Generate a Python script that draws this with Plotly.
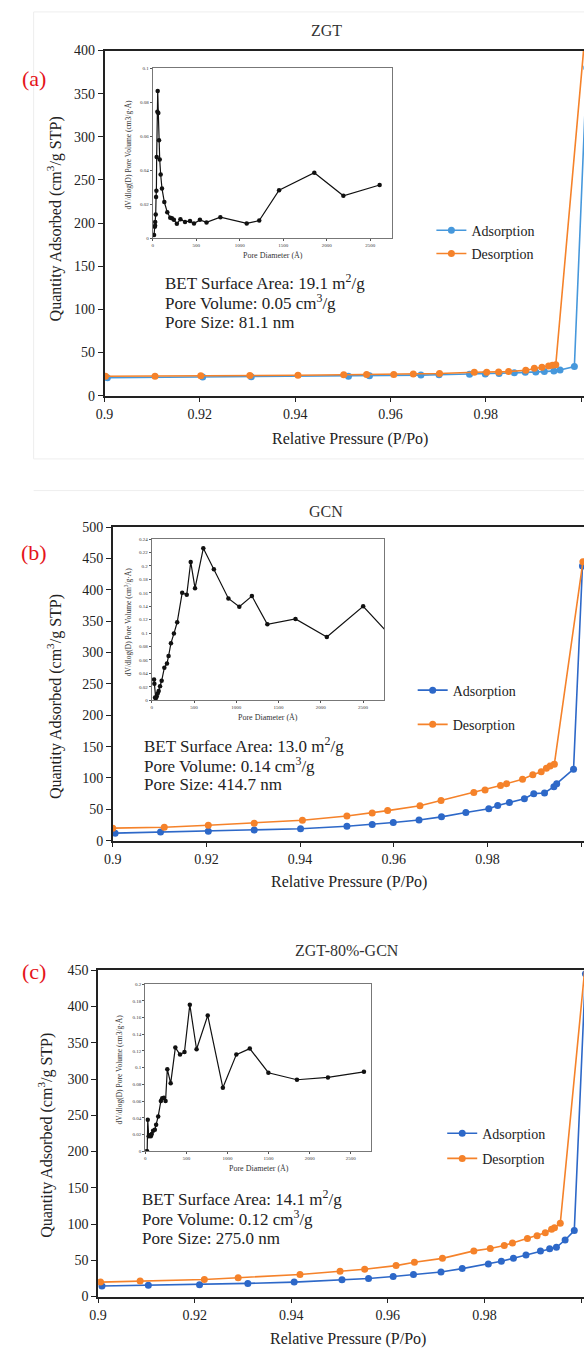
import plotly.graph_objects as go

# ---------------- data ----------------
# (a) ZGT isotherm
zgt_ads_p = [0.9006, 0.9206, 0.9308, 0.9512, 0.9556, 0.9664, 0.9702, 0.9766, 0.9799, 0.9828,
             0.9860, 0.9883, 0.9905, 0.9923, 0.9943, 0.9956, 0.9986, 1.0012]
zgt_ads_q = [20.8, 21.5, 22.0, 22.6, 23.0, 23.8, 24.2, 24.8, 25.2, 25.8,
             26.4, 27.0, 27.3, 27.9, 28.7, 29.8, 33.8, 380]
zgt_des_p = [0.9002, 0.9106, 0.9202, 0.9305, 0.9406, 0.9502, 0.9550, 0.9607, 0.9648, 0.9703,
             0.9776, 0.9802, 0.9827, 0.9848, 0.9884, 0.9902, 0.9918, 0.9932, 0.9940, 0.9947, 1.0012]
zgt_des_q = [22.5, 22.6, 23.0, 23.3, 23.6, 24.2, 24.5, 24.6, 25.2, 25.6,
             27.1, 27.1, 27.3, 27.9, 29.4, 31.7, 32.9, 34.4, 35.2, 35.9, 442]
# (a) ZGT pore size distribution
zgt_psd_d = [15, 23, 27, 28, 34, 38, 42, 45, 53, 57, 64, 72, 80, 91, 106, 133, 167, 201, 220, 243,
             277, 318, 371, 428, 474, 542, 618, 777, 1080, 1224, 1452, 1857, 2191, 2608]
zgt_psd_v = [0.002, 0.0068, 0.0074, 0.0097, 0.014, 0.0244, 0.028, 0.0478, 0.0745, 0.0867,
             0.0737, 0.0577, 0.0464, 0.0376, 0.0294, 0.0214, 0.0154, 0.0121, 0.0119, 0.0109,
             0.0086, 0.0113, 0.0097, 0.0103, 0.0088, 0.0109, 0.0094, 0.0125, 0.0088, 0.0105,
             0.0283, 0.0386, 0.0251, 0.0314]

# (b) GCN isotherm
gcn_ads_p = [0.9005, 0.9102, 0.9204, 0.9302, 0.9401, 0.9500, 0.9554, 0.9599, 0.9654, 0.9702,
             0.9754, 0.9803, 0.9822, 0.9847, 0.9879, 0.9899, 0.9922, 0.9942, 0.9948, 0.9984, 1.0003]
gcn_ads_q = [12, 13.7, 15, 17, 19, 23, 26, 29, 33, 38,
             45, 51, 56, 61, 67, 75, 76, 86, 91, 114, 438]
gcn_des_p = [0.9000, 0.9110, 0.9204, 0.9302, 0.9405, 0.9500, 0.9554, 0.9587, 0.9656, 0.9701,
             0.9771, 0.9795, 0.9828, 0.9841, 0.9875, 0.9897, 0.9915, 0.9926, 0.9934, 0.9943, 1.0004]
gcn_des_q = [20, 21.5, 24.7, 28, 32.5, 39.4, 44, 48, 55.7, 64,
             77, 81, 88, 91, 98, 105, 110, 115.5, 119, 122, 445]
# (b) GCN pore size distribution
gcn_psd_d = [27, 31, 39, 47, 59, 70, 82, 98, 117, 149, 180, 199, 227, 262, 301, 360, 414, 461,
             512, 610, 735, 907, 1036, 1185, 1368, 1701, 2072, 2502, 2900]
gcn_psd_v = [0.031, 0.0247, 0.004, 0.0025, 0.0054, 0.0099, 0.0138, 0.0208, 0.029, 0.0484,
             0.0548, 0.0657, 0.085, 0.0993, 0.1161, 0.16, 0.157, 0.2059, 0.1669, 0.2262,
             0.1951, 0.1516, 0.1393, 0.1551, 0.113, 0.121, 0.0943, 0.1398, 0.0857]

# (c) ZGT-80%-GCN isotherm
mix_ads_p = [0.9008, 0.9104, 0.9210, 0.9310, 0.9406, 0.9505, 0.9560, 0.9611, 0.9653, 0.9710,
             0.9754, 0.9808, 0.9835, 0.9860, 0.9886, 0.9916, 0.9935, 0.9949, 0.9967, 0.9986, 1.0009]
mix_ads_q = [14.5, 15.5, 16.4, 18.2, 20, 23.2, 25, 27.7, 30.5, 34,
             38.6, 45, 48.6, 53, 57.3, 63, 66, 68, 78, 91, 445]
mix_des_p = [0.9005, 0.9087, 0.9220, 0.9290, 0.9418, 0.9501, 0.9552, 0.9617, 0.9655, 0.9713,
             0.9778, 0.9812, 0.9841, 0.9858, 0.9889, 0.9909, 0.9926, 0.9939, 0.9945, 0.9957, 1.0012]
mix_des_q = [20, 21.4, 23.6, 26, 30.5, 35, 37.7, 42.7, 47.3, 52.7,
             63, 66.4, 70.5, 74, 80, 84, 88, 92.7, 95, 101, 481]
# (c) ZGT-80%-GCN pore size distribution
mix_psd_d = [8, 22, 29, 41, 53, 66, 78, 94, 115, 131, 156, 189, 205, 226, 246, 267, 308, 365,
             422, 476, 541, 623, 759, 943, 1107, 1271, 1497, 1845, 2222, 2660]
mix_psd_v = [0, 0, 0.0376, 0.0178, 0.019, 0.0178, 0.0206, 0.0245, 0.0257, 0.0317, 0.0416,
             0.0602, 0.0634, 0.0641, 0.0602, 0.0982, 0.0812, 0.124, 0.1156, 0.1188, 0.1754,
             0.122, 0.1624, 0.076, 0.1156, 0.1228, 0.0939, 0.0855, 0.0883, 0.095]

titles = ["ZGT", "GCN", "ZGT-80%-GCN"]
tags = ["(a)", "(b)", "(c)"]
bet_lines = [
    ["BET Surface Area: 19.1 m<sup>2</sup>/g", "Pore Volume: 0.05 cm<sup>3</sup>/g", "Pore Size: 81.1 nm"],
    ["BET Surface Area: 13.0 m<sup>2</sup>/g", "Pore Volume: 0.14 cm<sup>3</sup>/g", "Pore Size: 414.7 nm"],
    ["BET Surface Area: 14.1 m<sup>2</sup>/g", "Pore Volume: 0.12 cm<sup>3</sup>/g", "Pore Size: 275.0 nm"],
]
p_ticks = [0.9, 0.92, 0.94, 0.96, 0.98, 1.0]
p_ticktext = ["0.9", "0.92", "0.94", "0.96", "0.98", "1"]
d_ticks = [0, 500, 1000, 1500, 2000, 2500]
psd_yticks = [
    ([0, 0.02, 0.04, 0.06, 0.08, 0.1], ["0", "0.02", "0.04", "0.06", "0.08", "0.1"]),
    ([0, 0.02, 0.04, 0.06, 0.08, 0.1, 0.12, 0.14, 0.16, 0.18, 0.2, 0.22, 0.24],
     ["0", "0.02", "0.04", "0.06", "0.08", "0.1", "0.12", "0.14", "0.16", "0.18", "0.2", "0.22", "0.24"]),
    ([0, 0.02, 0.04, 0.06, 0.08, 0.1, 0.12, 0.14, 0.16, 0.18, 0.2],
     ["0", "0.02", "0.04", "0.06", "0.08", "0.1", "0.12", "0.14", "0.16", "0.18", "0.2"]),
]
psd_ytitles = ["dV/dlog(D) Pore Volume (cm3/g·Å)",
               "dV/dlog(D) Pore Volume (cm<sup>3</sup>/g·Å)",
               "dV/dlog(D) Pore Volume (cm3/g·Å)"]

isotherms = [
    (zgt_ads_p, zgt_ads_q, zgt_des_p, zgt_des_q),
    (gcn_ads_p, gcn_ads_q, gcn_des_p, gcn_des_q),
    (mix_ads_p, mix_ads_q, mix_des_p, mix_des_q),
]
psds = [(zgt_psd_d, zgt_psd_v), (gcn_psd_d, gcn_psd_v), (mix_psd_d, mix_psd_v)]

# ---------------- layout geometry (pixels) ----------------
W, H = 584, 1357
SERIF = "Liberation Serif, Times New Roman, serif"
ORANGE = "#F5822A"
BLUES = ["#4698DC", "#2D68C8", "#2D68C8"]
INK = "#222222"


def fx(px):
    return px / W


def fy(py):
    return 1 - py / H


# main plot boxes and inset boxes
main_box = [
    dict(left=97, one=581, top=44, bottom=393, ymax=400),
    dict(left=105.4, one=581, top=526, bottom=843, ymax=500),
    dict(left=90.5, one=581, top=974, bottom=1304, ymax=450),
]
inset_box = [
    dict(left=146, right=389, top=62, bottom=234, ymax=0.1),
    dict(left=145, right=381, top=538, bottom=701, ymax=0.24),
    dict(left=138.5, right=368, top=988, bottom=1157, ymax=0.2),
]
# text placements (centres, pixels)
title_pos = [(322, 24), (322, 510), (343, 954)]
tag_pos = [(25.5, 72), (25.5, 552), (25.5, 975)]
ytitle_pos = [(46.5, 214), (46.5, 697), (37, 1141)]
xtitle_pos = [(346, 437), (345, 885), (344, 1347)]
bet_pos = [(156, [278, 298, 319]), (135, [746, 766.5, 786.5]), (133, [1204, 1225, 1245])]
inset_xt_pos = [(268, 251), (263.5, 718), (254, 1174)]
inset_yt_pos = [(121, 149), (121, 622), (112, 1074)]
legend_pos = [(429, 210, 2), (410, 675, 13), (440, 1123, 4)]

fig = go.Figure()
layout = dict(
    width=W, height=H, margin=dict(l=0, r=0, t=0, b=0),
    paper_bgcolor="white", plot_bgcolor="white",
    font=dict(family=SERIF, color=INK),
    annotations=[], shapes=[],
)


def label(text, px, py, size, color=INK, angle=0, xanchor="center"):
    return dict(text=text, x=fx(px), y=fy(py), xref="paper", yref="paper",
                xanchor=xanchor, yanchor="middle", textangle=angle, showarrow=False,
                font=dict(size=size, color=color, family=SERIF))


for i in range(3):
    mb, ib = main_box[i], inset_box[i]
    mx, my = 2 * i + 1, 2 * i + 1
    sx, sy = 2 * i + 2, 2 * i + 2
    xr_hi = 0.9 + 0.1 * (W - mb["left"]) / (mb["one"] - mb["left"])
    leg = "legend" if i == 0 else f"legend{i + 1}"

    ads_p, ads_q, des_p, des_q = isotherms[i]
    fig.add_trace(go.Scatter(
        x=ads_p, y=ads_q, mode="lines+markers", name="Adsorption",
        line=dict(color=BLUES[i], width=1.6), marker=dict(size=7, color=BLUES[i]),
        xaxis=f"x{mx}", yaxis=f"y{my}", legend=leg, legendgroup=f"ads{i}"))
    fig.add_trace(go.Scatter(
        x=des_p, y=des_q, mode="lines+markers", name="Desorption",
        line=dict(color=ORANGE, width=1.6), marker=dict(size=7, color=ORANGE),
        xaxis=f"x{mx}", yaxis=f"y{my}", legend=leg, legendgroup=f"des{i}"))
    d, v = psds[i]
    fig.add_trace(go.Scatter(
        x=d, y=v, mode="lines+markers", showlegend=False,
        line=dict(color="#111111", width=1.2), marker=dict(size=4.5, color="#111111"),
        xaxis=f"x{sx}", yaxis=f"y{sy}"))

    layout[f"xaxis{mx}"] = dict(
        domain=[fx(mb["left"]), 1.0], range=[0.9, xr_hi], anchor=f"y{my}",
        tickvals=p_ticks, ticktext=p_ticktext, ticks="outside", ticklen=5, tickwidth=1,
        tickcolor=INK, showline=True, linecolor=INK, linewidth=1.5, mirror=True,
        showgrid=False, zeroline=False, tickfont=dict(size=14, color=INK))
    layout[f"yaxis{my}"] = dict(
        domain=[fy(mb["bottom"]), fy(mb["top"])], range=[0, mb["ymax"]], anchor=f"x{mx}",
        dtick=50, tick0=0, ticks="outside", ticklen=5, tickwidth=1, tickcolor=INK,
        showline=True, linecolor=INK, linewidth=1.5, showgrid=False, zeroline=False,
        tickfont=dict(size=14, color=INK))
    yt, ytt = psd_yticks[i]
    layout[f"xaxis{sx}"] = dict(
        domain=[fx(ib["left"]), fx(ib["right"])], range=[0, 2750], anchor=f"y{sy}",
        tickvals=d_ticks, ticks="outside", ticklen=2, tickwidth=0.8, tickcolor="#555",
        showline=True, linecolor="#777777", linewidth=1, mirror=True,
        showgrid=False, zeroline=False, tickfont=dict(size=5, color="#333"))
    layout[f"yaxis{sy}"] = dict(
        domain=[fy(ib["bottom"]), fy(ib["top"])], range=[0, ib["ymax"]], anchor=f"x{sx}",
        tickvals=yt, ticktext=ytt, ticks="outside", ticklen=2, tickwidth=0.8, tickcolor="#555",
        showline=True, linecolor="#777777", linewidth=1, mirror=True,
        showgrid=False, zeroline=False, tickfont=dict(size=5, color="#333"))

    lx, ly, gap = legend_pos[i]
    layout[leg] = dict(
        x=fx(lx), y=fy(ly), xanchor="left", yanchor="top", bgcolor="rgba(0,0,0,0)",
        font=dict(size=14, family=SERIF, color=INK), tracegroupgap=gap, traceorder="grouped")

    ann = layout["annotations"]
    ann.append(label(titles[i], *title_pos[i], 16, color="#333333"))
    ann.append(label(tags[i], *tag_pos[i], 22, color="#E5141B"))
    ann.append(label("Quantity Adsorbed (cm<sup>3</sup>/g STP)", *ytitle_pos[i], 16, angle=-90))
    ann.append(label("Relative Pressure (P/Po)", *xtitle_pos[i], 16))
    bx, bys = bet_pos[i]
    for line, by in zip(bet_lines[i], bys):
        ann.append(label(line, bx, by, 17, xanchor="left"))
    ann.append(label("Pore Diameter (Å)", *inset_xt_pos[i], 8, color="#333333"))
    ann.append(label(psd_ytitles[i], *inset_yt_pos[i], 7.5, color="#333333", angle=-90))

# faint frame lines around the panels
layout["shapes"].append(dict(type="rect", xref="paper", yref="paper", x0=fx(25), x1=fx(590),
                             y0=fy(457), y1=fy(5), line=dict(color="#eeeeee", width=1), layer="below"))
layout["shapes"].append(dict(type="line", xref="paper", yref="paper", x0=fx(25), x1=1,
                             y0=fy(489), y1=fy(489), line=dict(color="#eeeeee", width=1), layer="below"))

fig.update_layout(**layout)
fig.write_html("out.html")
